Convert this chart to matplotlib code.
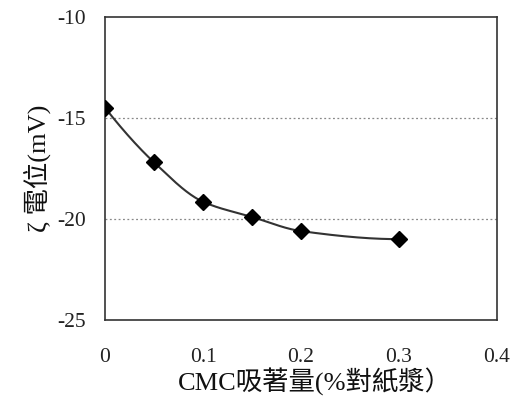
import numpy as np
import matplotlib
matplotlib.use("Agg")
import matplotlib.pyplot as plt

plt.rcParams['font.family'] = ['Liberation Serif', 'Noto Sans CJK TC', 'DejaVu Sans']
plt.rcParams['axes.unicode_minus'] = False

cmc = [0.0, 0.05, 0.1, 0.15, 0.2, 0.3]
zeta = [-14.5, -17.2, -19.15, -19.9, -20.6, -21.0]
xticks = [0, 0.1, 0.2, 0.3, 0.4]
xticklabels = ["0", "0.1", "0.2", "0.3", "0.4"]
yticks = [-25, -20, -15, -10]

def pchip(x, y, xs):
    x = np.asarray(x, float); y = np.asarray(y, float)
    h = np.diff(x); d = np.diff(y) / h
    n = len(x); m = np.zeros(n)
    for k in range(1, n - 1):
        if d[k-1] * d[k] > 0:
            w1 = 2*h[k] + h[k-1]; w2 = h[k] + 2*h[k-1]
            m[k] = (w1 + w2) / (w1/d[k-1] + w2/d[k])
    m[0] = ((2*h[0] + h[1])*d[0] - h[0]*d[1]) / (h[0] + h[1])
    if m[0]*d[0] <= 0: m[0] = 0
    m[-1] = ((2*h[-1] + h[-2])*d[-1] - h[-1]*d[-2]) / (h[-1] + h[-2])
    if m[-1]*d[-1] <= 0: m[-1] = 0
    out = np.empty_like(xs)
    for i, xv in enumerate(xs):
        k = min(np.searchsorted(x, xv, side='right') - 1, n - 2)
        t = (xv - x[k]) / h[k]
        h00 = 2*t**3 - 3*t**2 + 1; h10 = t**3 - 2*t**2 + t
        h01 = -2*t**3 + 3*t**2; h11 = t**3 - t**2
        out[i] = h00*y[k] + h10*h[k]*m[k] + h01*y[k+1] + h11*h[k]*m[k+1]
    return out

fig = plt.figure(figsize=(5.15, 4.01), dpi=100)
ax = fig.add_axes([0.204, 0.202, 0.761, 0.756])

xs = np.linspace(cmc[0], cmc[-1], 200)
ax.plot(xs, pchip(cmc, zeta, xs), color='#333333', lw=1.5, zorder=3)
ax.plot(cmc, zeta, linestyle='none', marker='D', ms=8, color='black', zorder=4)

ax.set_xlim(0, 0.4)
ax.set_ylim(-25, -10)
ax.set_xticks(xticks)
ax.set_xticklabels(xticklabels)
ax.set_yticks(yticks)
for yv in [-15, -20]:
    ax.axhline(yv, color='#888888', lw=0.9, linestyle=(0, (1.5, 2)), zorder=1)

ax.tick_params(length=0, labelsize=15.5, labelcolor='#222222')
ax.tick_params(axis='x', pad=20)
ax.tick_params(axis='y', pad=14)
for s in ax.spines.values():
    s.set_color('#333333')
    s.set_linewidth(1.2)

ax.set_xlabel("CMC吸著量(%對紙漿）", fontsize=19, color='#111111')
ax.xaxis.set_label_coords(0.535, -0.158)
ax.set_ylabel("ζ 電位(mV)", fontsize=19, labelpad=4, color='#111111')

fig.savefig("out.png", dpi=100)
